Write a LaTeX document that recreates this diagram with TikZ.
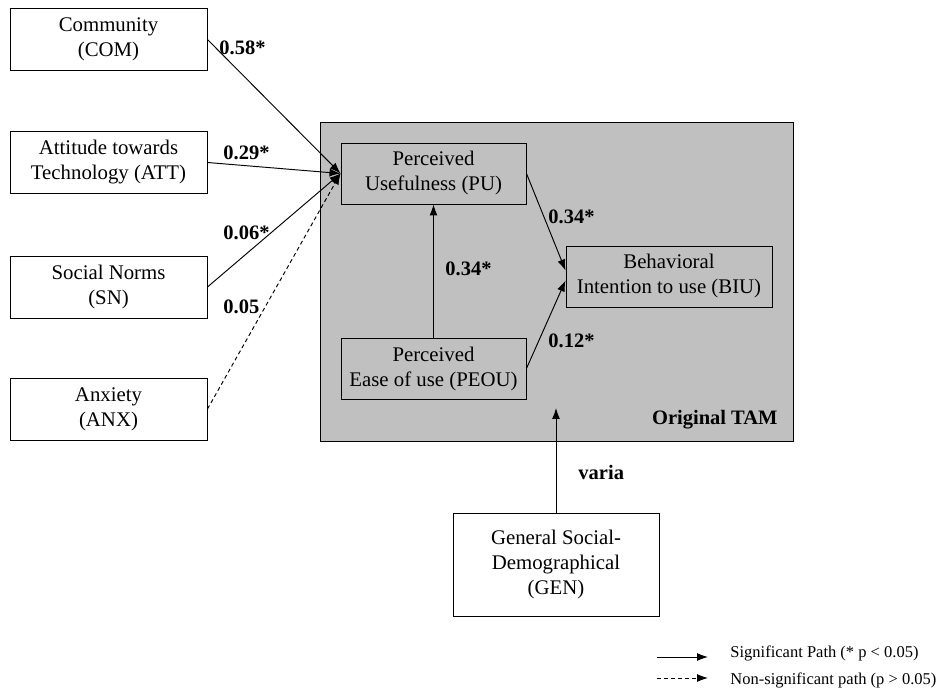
\documentclass[tikz,border=0pt]{standalone}
\usepackage{fontspec}
\setmainfont{Liberation Serif}
\usetikzlibrary{arrows.meta}
\definecolor{tamgray}{RGB}{192,192,192}

\begin{document}
\begin{tikzpicture}[x=1pt, y=-1pt, >={Latex[length=11pt,width=8pt]}, line width=0.95pt,
	construct/.style={draw, fill=white, minimum width=197pt, minimum height=62pt, align=center,
		inner sep=2pt, font=\fontsize{20.8}{25}\selectfont},
	tamconstruct/.style={construct, fill=tamgray, minimum width=185pt, minimum height=61pt},
	coef/.style={font=\fontsize{20.5}{24}\selectfont\bfseries, inner sep=1pt},
	legendtext/.style={font=\fontsize{16.5}{20}\selectfont, anchor=west, inner sep=0pt},
	nonsig/.style={dash pattern=on 4pt off 3pt}]
	\useasboundingbox (0,0) rectangle (948,692);
	%%%	Original TAM
	\draw[fill=tamgray] (320,122) rectangle (793,441);
	\node[coef, anchor=east] (tam) at (779,420) {Original TAM};
	\node[tamconstruct] (pu) at (433.5,173.5) {Perceived\\Usefulness (PU)};
	\node[tamconstruct] (peou) at (433.5,368.5) {Perceived\\Ease of use (PEOU)};
	\node[tamconstruct, minimum width=206pt] (biu) at (669,276.5) {Behavioral\\Intention to use (BIU)};
	%%%	External variables
	\node[construct] (com) at (108.5,39.5) {Community\\(COM)};
	\node[construct] (att) at (108.5,162.5) {Attitude towards\\Technology (ATT)};
	\node[construct] (sn) at (108.5,287) {Social Norms\\(SN)};
	\node[construct] (anx) at (108.5,409) {Anxiety\\(ANX)};
	\node[construct, minimum width=206pt, minimum height=103pt] (gen) at (556,564.5) {General Social-\\Demographical\\(GEN)};
	%%%	Paths
	\draw[->] (com.east) -- (pu.west);
	\draw[->] (att.east) -- (pu.west);
	\draw[->] (sn.east) -- (pu.west);
	\draw[->, nonsig] (anx.east) -- (pu.west);
	\draw[->] (peou.north) -- (pu.south);
	\draw[->] (pu.east) -- ([yshift=6pt]biu.west);
	\draw[->] (peou.east) -- ([yshift=-4pt]biu.west);
	\coordinate (genend) at (556,408);
	\draw[->] (gen.north) -- (genend);
	%%%	Coefficients
	\node[coef, anchor=west] (c1) at (218,48) {0.58*};
	\node[coef, anchor=west] (c2) at (222,153) {0.29*};
	\node[coef, anchor=west] (c3) at (222,233) {0.06*};
	\node[coef, anchor=west] (c4) at (222,307) {0.05};
	\node[coef, anchor=west] (c5) at (547,217) {0.34*};
	\node[coef, anchor=west] (c6) at (444,269) {0.34*};
	\node[coef, anchor=west] (c7) at (547,341) {0.12*};
	\node[coef, anchor=west] (c8) at (577,472) {varia};
	%%%	Legend
	\coordinate (sigA) at (657,657);
	\coordinate (sigB) at (708,657);
	\coordinate (nsA) at (657,678);
	\coordinate (nsB) at (708,678);
	\draw[->] (sigA) -- (sigB);
	\draw[->, nonsig] (nsA) -- (nsB);
	\node[legendtext] (sig) at (730,653) {Significant Path (* p < 0.05)};
	\node[legendtext] (ns) at (730,680) {Non-significant path (p > 0.05)};
\end{tikzpicture}
\end{document}
